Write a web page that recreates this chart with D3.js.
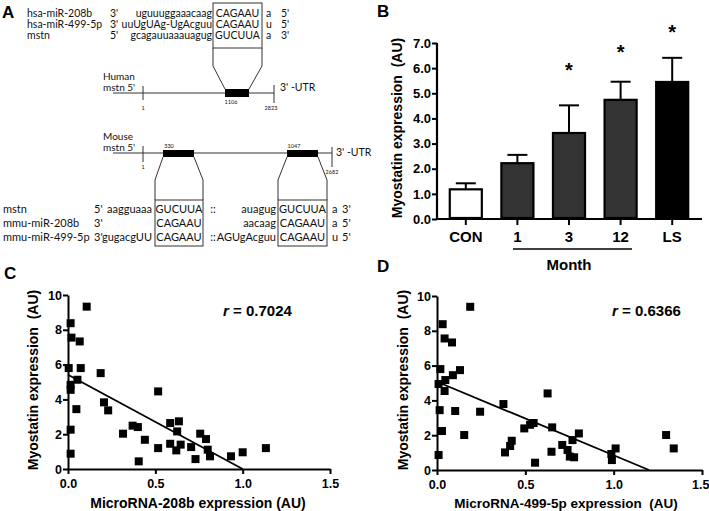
<!DOCTYPE html>
<html><head><meta charset="utf-8">
<script src="https://cdn.jsdelivr.net/npm/d3@7"></script>
<style>
html,body{margin:0;padding:0;background:#fff;}
svg{display:block;}
</style></head>
<body>
<script>
// ---------------- DATA ----------------
// Panel A (sequence alignment diagram)
const humanRowLabels = ["hsa-miR-208b","hsa-miR-499-5p","mstn"];
const humanRowEnds = ["3'","3'","5'"];
const humanRowSeqs = ["uguuuggaaacaag","uuUgUAg-UgAcguu","gcagauuaaauagug"];
const humanSeed = ["CAGAAU","CAGAAU","GUCUUA"];
const humanTail = ["a","u","a"];
const humanTailEnds = ["5'","5'","3'"];
const humanPositions = ["1","1106","2823"];

const mouseRowLabels = ["mstn","mmu-miR-208b","mmu-miR-499-5p"];
const mouseRowEnds = ["5'","3'","3'"];
const mouseSeq1 = ["aagguaaa","","gugacgUU"];
const mouseSeed1 = ["GUCUUA","CAGAAU","CAGAAU"];
const mouseSep = ["::","","::"];
const mouseSeq2 = ["auagug","aacaag","AGUgAcguu"];
const mouseSeed2 = ["GUCUUA","CAGAAU","CAGAAU"];
const mouseTail = ["a","a","u"];
const mouseTailEnds = ["3'","5'","5'"];
const mousePositions = ["1","330","1047","2682"];

// Panel B
const bCategories = ["CON","1","3","12","LS"];
const bValues = [1.18, 2.22, 3.42, 4.74, 5.45];
const bErrors = [0.24, 0.33, 1.10, 0.72, 0.96];
const bStars = [null, null, 6.1, 6.8, 7.6];
const bTicks = [0,1,2,3,4,5,6,7];

// Panel C
const cX = [0.015,0.02,0.067,0.004,0.073,0.054,0.015,0.015,0.048,0.015,0.015,0.107,0.187,0.206,0.23,0.315,0.37,0.40,0.405,0.44,0.516,0.516,0.585,0.635,0.625,0.585,0.62,0.645,0.705,0.73,0.757,0.79,0.80,0.813,0.933,1.0,1.133];
const cY = [8.38,7.55,7.33,5.8,5.8,5.13,4.84,4.55,3.44,2.26,0.88,9.33,5.51,3.83,3.37,2.03,2.49,2.41,0.44,1.68,1.2,4.46,2.64,2.74,2.16,1.45,1.07,1.4,1.26,0.57,2.03,1.72,1.11,0.73,0.73,0.96,1.2];
const cFit = [[0,5.42],[1.0,0]];
const cR = "0.7024";

// Panel D
const dX = [0.032,0.043,0.085,0.019,0.09,0.13,0.047,0.009,0.043,0.015,0.103,0.028,0.009,0.154,0.244,0.376,0.385,0.423,0.414,0.494,0.527,0.547,0.555,0.626,0.648,0.652,0.709,0.739,0.752,0.776,0.767,0.803,0.987,0.99,1.011,1.297,1.34,0.188];
const dY = [8.38,7.56,7.33,5.8,5.45,5.74,5.17,4.94,4.54,3.44,3.39,2.24,0.86,2.01,3.35,3.79,1.01,1.68,1.38,2.39,2.6,2.7,0.42,4.4,1.05,2.45,1.44,1.15,0.77,0.73,1.72,2.1,0.92,0.57,1.24,2.01,1.24,9.38];
const dFit = [[0,5.07],[1.2,0]];
const dR = "0.6366";

const scatterXTicks = [0,0.5,1.0,1.5];
const scatterYTicks = [0,2,4,6,8,10];

// ---------------- DRAW ----------------
const W = 709, H = 511;
const svg = d3.select("body").append("svg").attr("width", W).attr("height", H);
const ARIAL = "'Liberation Sans', Arial, sans-serif";
const CAL = "Lato, 'Open Sans', sans-serif";

function panelLabel(t, x, y) {
  svg.append("text").attr("x", x).attr("y", y).text(t)
    .attr("font-family", ARIAL).attr("font-weight", "bold").attr("font-size", 17);
}
panelLabel("A", 2, 18);
panelLabel("B", 377, 17);
panelLabel("C", 4, 279);
panelLabel("D", 377, 272);

// ---------- Panel A ----------
const gA = svg.append("g").attr("font-family", CAL).attr("fill", "#111");
function t(g, s, x, y, size, anchor) {
  return g.append("text").attr("x", x).attr("y", y).text(s)
    .attr("font-size", size).attr("text-anchor", anchor || "start");
}
const HL = 10.5, HS = 10.5, ML = 11, MS = 11;
const hBase = [16.5, 27.5, 38.5];
humanRowLabels.forEach((s, i) => {
  t(gA, s, 27, hBase[i], HL);
  t(gA, humanRowEnds[i], 110, hBase[i], HL);
  t(gA, humanRowSeqs[i], 212, hBase[i], HS, "end");
  t(gA, humanSeed[i], 237.5, hBase[i], HL, "middle");
  t(gA, humanTail[i], 266, hBase[i], HL);
  t(gA, humanTailEnds[i], 281, hBase[i], HL);
});
const line = (d) => gA.append("path").attr("d", d).attr("fill", "none").attr("stroke", "#333").attr("stroke-width", 1);
gA.append("rect").attr("x", 213).attr("y", 3).attr("width", 49).attr("height", 45)
  .attr("fill", "none").attr("stroke", "#333").attr("stroke-width", 1);
line("M213,48 L213,66 L225,89 M262,48 L262,66 L249,89");
line("M113,93 L274,93 M143,86 L143,100 M274,85 L274,103");
gA.append("rect").attr("x", 225).attr("y", 89).attr("width", 24).attr("height", 8).attr("fill", "#000");
t(gA, "Human", 103, 80, 10);
t(gA, "mstn 5'", 103, 91, 10);
t(gA, "3' -UTR", 280, 91, 10.5);
t(gA, humanPositions[0], 143, 110, 5.5, "middle");
t(gA, humanPositions[1], 231, 104, 5.5, "middle");
t(gA, humanPositions[2], 271, 110, 5.5, "middle");

// Mouse
t(gA, "Mouse", 103, 140, 10);
t(gA, "mstn 5'", 103, 151, 10);
line("M113,153 L332,153 M143,146 L143,162 M332,147 L332,167");
gA.append("rect").attr("x", 163).attr("y", 150).attr("width", 31).attr("height", 7).attr("fill", "#000");
gA.append("rect").attr("x", 287).attr("y", 150).attr("width", 31).attr("height", 7).attr("fill", "#000");
line("M163,157 L155,180 L155,200 M194,157 L203,180 L203,200");
line("M287,157 L278,180 L278,200 M318,157 L327,180 L327,200");
gA.append("rect").attr("x", 155).attr("y", 200).attr("width", 48).attr("height", 46)
  .attr("fill", "none").attr("stroke", "#333").attr("stroke-width", 1);
gA.append("rect").attr("x", 278).attr("y", 200).attr("width", 49).attr("height", 46)
  .attr("fill", "none").attr("stroke", "#333").attr("stroke-width", 1);
t(gA, mousePositions[0], 143, 169, 5.5, "middle");
t(gA, mousePositions[1], 169, 148, 5.5, "middle");
t(gA, mousePositions[2], 294, 148, 5.5, "middle");
t(gA, mousePositions[3], 332, 174, 5.5, "middle");
t(gA, "3' -UTR", 336, 156, 10.5);

const mBase = [213, 227, 240.5];
mouseRowLabels.forEach((s, i) => {
  t(gA, s, 3, mBase[i], ML);
  t(gA, mouseRowEnds[i], 94, mBase[i], ML);
  t(gA, mouseSeq1[i], 152, mBase[i], MS, "end");
  t(gA, mouseSeed1[i], 179, mBase[i], ML, "middle");
  t(gA, mouseSep[i], 213, mBase[i], ML, "middle");
  t(gA, mouseSeq2[i], 276, mBase[i], MS, "end");
  t(gA, mouseSeed2[i], 302.5, mBase[i], ML, "middle");
  t(gA, mouseTail[i], 332, mBase[i], ML);
  t(gA, mouseTailEnds[i], 342, mBase[i], ML);
});

// ---------- Panel B ----------
const gB = svg.append("g").attr("font-family", ARIAL);
const xB = d3.scaleBand().domain(bCategories).range([440, 698]).paddingInner(0.34).paddingOuter(0.17);
const yB = d3.scaleLinear().domain([0, 7]).range([219, 43]);
const fills = ["#ffffff", "#333333", "#333333", "#333333", "#000000"];

bCategories.forEach((c, i) => {
  const cx = xB(c) + xB.bandwidth() / 2;
  gB.append("line").attr("x1", cx).attr("x2", cx).attr("y1", yB(bValues[i])).attr("y2", yB(bValues[i] + bErrors[i]))
    .attr("stroke", "#000").attr("stroke-width", 2);
  gB.append("line").attr("x1", cx - 10).attr("x2", cx + 10).attr("y1", yB(bValues[i] + bErrors[i])).attr("y2", yB(bValues[i] + bErrors[i]))
    .attr("stroke", "#000").attr("stroke-width", 2);
});
gB.selectAll("rect.bar").data(bValues).join("rect").attr("class", "bar")
  .attr("x", (d, i) => xB(bCategories[i]) + 1)
  .attr("width", xB.bandwidth() - 2)
  .attr("y", d => yB(d))
  .attr("height", d => yB(0) - yB(d) - 1)
  .attr("fill", (d, i) => fills[i]).attr("stroke", "#000").attr("stroke-width", 2.2);

const yAxisB = gB.append("g").attr("transform", "translate(437,0)")
  .call(d3.axisLeft(yB).tickValues(bTicks).tickFormat(d3.format(".1f")).tickSize(5).tickSizeOuter(0));
const xAxisB = gB.append("g").attr("transform", "translate(0,219)")
  .call(d3.axisBottom(xB).tickSize(6).tickSizeOuter(0).tickFormat(""));
[yAxisB, xAxisB].forEach(a => {
  a.select(".domain").attr("stroke-width", 2.2).attr("stroke", "#000");
  a.selectAll(".tick line").attr("stroke-width", 2).attr("stroke", "#000");
  a.selectAll("text").attr("font-family", ARIAL).attr("font-weight", "bold").attr("font-size", 13).attr("fill", "#000");
});
xAxisB.select(".domain").attr("d", "M437,0H702");
yAxisB.select(".domain").attr("d", "M0,43V220");
yAxisB.selectAll(".tick text").attr("x", -6);

bCategories.forEach((c, i) => {
  gB.append("text").attr("x", xB(c) + xB.bandwidth() / 2).attr("y", 242).attr("text-anchor", "middle")
    .attr("font-weight", "bold").attr("font-size", 15).text(c);
  if (bStars[i] !== null) {
    gB.append("text").attr("x", xB(c) + xB.bandwidth() / 2).attr("y", yB(bStars[i]) + 11).attr("text-anchor", "middle")
      .attr("font-weight", "bold").attr("font-size", 20).text("*");
  }
});
gB.append("line").attr("x1", 513).attr("x2", 632).attr("y1", 249).attr("y2", 249).attr("stroke", "#000").attr("stroke-width", 1.3);
gB.append("text").attr("x", 569).attr("y", 270).attr("text-anchor", "middle").attr("font-weight", "bold").attr("font-size", 15).text("Month");
gB.append("text").attr("transform", "translate(402,128) rotate(-90)").attr("text-anchor", "middle")
  .attr("font-weight", "bold").attr("font-size", 14).attr("xml:space", "preserve").text("Myostatin expression  (AU)");

// ---------- Scatter panels ----------
function scatter(xs, ys, fit, r, x0, x1, y0, y1, xlab, ylabX, rX, xlabX, xlabSize) {
  const g = svg.append("g").attr("font-family", ARIAL);
  const x = d3.scaleLinear().domain([0, 1.5]).range([x0, x1]);
  const y = d3.scaleLinear().domain([0, 10]).range([y0, y1]);
  const ax = g.append("g").attr("transform", `translate(0,${y0})`)
    .call(d3.axisBottom(x).tickValues(scatterXTicks).tickFormat(d3.format(".1f")).tickSize(5).tickSizeOuter(0));
  const ay = g.append("g").attr("transform", `translate(${x0},0)`)
    .call(d3.axisLeft(y).tickValues(scatterYTicks).tickFormat(d3.format("d")).tickSize(5).tickSizeOuter(0));
  [ax, ay].forEach(a => {
    a.select(".domain").attr("stroke-width", 2).attr("stroke", "#000");
    a.selectAll(".tick line").attr("stroke-width", 2).attr("stroke", "#000");
    a.selectAll("text").attr("font-family", ARIAL).attr("font-weight", "bold").attr("font-size", 12.5).attr("fill", "#000");
  });
  ax.selectAll(".tick text").attr("dy", "0.85em")
    .attr("text-anchor", d => (x(d) + 10 > W ? "end" : "middle"))
    .attr("dx", d => (x(d) + 10 > W ? 7 : 0));
  ay.selectAll(".tick text").attr("x", -6);
  g.append("path").datum(fit).attr("d", d3.line().x(d => x(d[0])).y(d => y(d[1])))
    .attr("fill", "none").attr("stroke", "#000").attr("stroke-width", 1.8);
  g.selectAll("rect.pt").data(xs).join("rect").attr("class", "pt")
    .attr("x", (d) => x(d) - 4).attr("y", (d, i) => y(ys[i]) - 4)
    .attr("width", 8).attr("height", 8).attr("fill", "#000");
  const rt = g.append("text").attr("x", rX).attr("y", 316).attr("font-weight", "bold").attr("font-size", 15);
  rt.append("tspan").attr("font-style", "italic").text("r");
  rt.append("tspan").text(" = " + r);
  g.append("text").attr("x", xlabX).attr("y", 508).attr("text-anchor", "middle").attr("font-weight", "bold").attr("font-size", xlabSize)
    .attr("xml:space", "preserve").text(xlab);
  g.append("text").attr("transform", `translate(${ylabX},380) rotate(-90)`).attr("text-anchor", "middle")
    .attr("font-weight", "bold").attr("font-size", 14).attr("xml:space", "preserve").text("Myostatin expression  (AU)");
}
scatter(cX, cY, cFit, cR, 68, 330, 469, 295, "MicroRNA-208b expression (AU)", 38, 223, 198, 14);
scatter(dX, dY, dFit, dR, 437, 702, 470, 296, "MicroRNA-499-5p expression  (AU)", 408, 612, 566, 13.5);
</script>
</body></html>
